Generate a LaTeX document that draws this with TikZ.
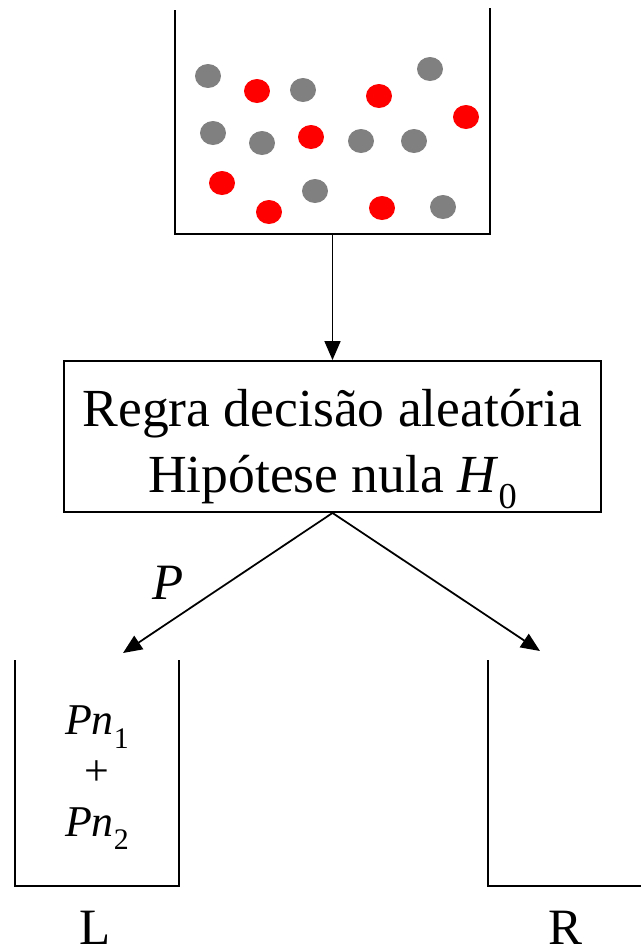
\documentclass[tikz,border=0pt]{standalone}
\usepackage{fontspec}
\setmainfont{Liberation Serif}
\usepackage{graphicx}
\usetikzlibrary{arrows.meta, positioning, calc}
\definecolor{cBall}{RGB}{128,128,128}
\definecolor{cRed}{RGB}{255,0,0}
\newcommand{\lowsub}[1]{\raisebox{-0.3em}{\scalebox{0.68}{#1}}}
\tikzset{
	rulebox/.style={rectangle, draw=black, line width=1.1pt, minimum width=10.74cm, minimum height=3.02cm},
	ruletext/.style={align=center, inner sep=0pt, font=\fontsize{30.5}{38}\selectfont},
	urn/.style={line width=1.1pt},
	flowarrow/.style={-{Triangle[length=0.38cm, width=0.32cm]}, line width=1pt},
	grayball/.style={fill=cBall},
	redball/.style={fill=cRed},
	binlabel/.style={font=\fontsize{29}{35}\selectfont, anchor=base, inner sep=0pt},
	bintext/.style={align=center, inner sep=0pt, font=\fontsize{25}{29}\selectfont},
}
\begin{document}
\begin{tikzpicture}[x=0.02cm, y=-0.02cm]
	\useasboundingbox (0,0) rectangle (641,951);
	% urn with the balls
	\draw[urn] (175,10) -- (175,234) -- (490,234) -- (490,8);
	\foreach \bx/\by in {208/76, 303/90, 430/69, 213/133, 262/143, 361/141, 414/141, 315/191, 443/207}
		\fill[grayball] (\bx,\by) ellipse [x radius=0.26cm, y radius=0.24cm];
	\foreach \bx/\by in {257/91, 379/96, 466/117, 311/137, 222/183, 269/212, 382/208}
		\fill[redball] (\bx,\by) ellipse [x radius=0.26cm, y radius=0.24cm];
	\coordinate (urnbot) at (332.5,234);
	% decision rule
	\node[rulebox] (regra) at (332.5,436.5) {};
	\node[ruletext] (regratext) at (332.5,449) {Regra decisão aleatória\\Hipótese nula \textit{H}\lowsub{0}};
	\draw[flowarrow] (urnbot) -- (regra.north);
	% the two bins
	\draw[urn] (15,660) -- (15,886) -- (179,886) -- (179,660);
	\draw[urn] (488,660) -- (488,886) -- (641,886);
	\coordinate (ltip) at (123,653);
	\coordinate (rtip) at (540,651);
	\draw[flowarrow] (regra.south) -- node[left=0.75cm, font=\fontsize{29}{35}\selectfont]{\textit{P}} (ltip);
	\draw[flowarrow] (regra.south) -- (rtip);
	\node[bintext] (lcontent) at (97,778) {\textit{Pn}\lowsub{1}\\+\\\textit{Pn}\lowsub{2}};
	\node[binlabel] (lname) at (95,944) {L};
	\node[binlabel] (rname) at (565,944) {R};
\end{tikzpicture}
\end{document}
